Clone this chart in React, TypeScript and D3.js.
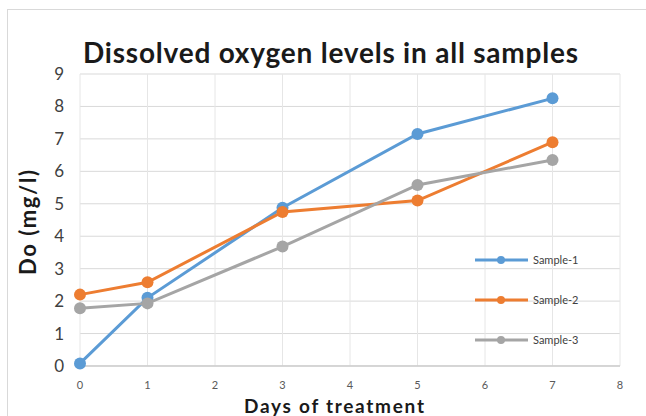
import React from "react";
import * as d3 from "d3";

const days = [0, 1, 3, 5, 7];
const sample1 = [0.08, 2.1, 4.88, 7.15, 8.25];
const sample2 = [2.2, 2.58, 4.75, 5.1, 6.9];
const sample3 = [1.78, 1.93, 3.68, 5.58, 6.35];
const seriesNames = ["Sample-1", "Sample-2", "Sample-3"];
const seriesColors = ["#5B9BD5", "#ED7D31", "#A5A5A5"];
const xTicks = [0, 1, 2, 3, 4, 5, 6, 7, 8];
const yTicks = [0, 1, 2, 3, 4, 5, 6, 7, 8, 9];

export default function App() {
  const W = 646, H = 416;
  const x = d3.scaleLinear().domain([0, 8]).range([80, 620]);
  const y = d3.scaleLinear().domain([0, 9]).range([366, 74]);
  const line = d3.line<number>().x((_, i) => x(days[i])).y((d) => y(d));
  const all = [sample1, sample2, sample3];
  const legendY = [260, 300, 340];
  const font = "Lato, 'Open Sans', sans-serif";
  return (
    <svg width={W} height={H} style={{ position: "absolute", left: 0, top: 0 }} fontFamily={font}>
      <rect x={0} y={0} width={W} height={H} fill="#fff" />
      <rect x={7.5} y={9.5} width={W + 10} height={H + 10} fill="#fff" stroke="#d9d9d9" />
      {yTicks.map((t) => (
        <line key={"h" + t} x1={x(0)} x2={x(8)} y1={y(t)} y2={y(t)} stroke="#d9d9d9" strokeWidth={1} />
      ))}
      {xTicks.map((t) => (
        <line key={"v" + t} x1={x(t)} x2={x(t)} y1={y(0)} y2={y(9)} stroke="#e6e6e6" strokeWidth={1} />
      ))}
      <line x1={x(0)} x2={x(8)} y1={y(0)} y2={y(0)} stroke="#bfbfbf" />
      {yTicks.map((t) => (
        <text key={"yl" + t} x={64} y={y(t) + 6} textAnchor="end" fontSize={17} fill="#404040">{t}</text>
      ))}
      {xTicks.map((t) => (
        <text key={"xl" + t} x={x(t)} y={389} textAnchor="middle" fontSize={11} fill="#595959">{t}</text>
      ))}
      <text x={83} y={63} fontSize={28} fontWeight="bold" fill="#1a1a1a" textLength={495} lengthAdjust="spacing">Dissolved oxygen levels in all samples</text>
      <text x={244} y={413} fontSize={19} fontWeight="bold" fill="#1a1a1a" textLength={180} lengthAdjust="spacing">Days of treatment</text>
      <text transform={`translate(36,275) rotate(-90)`} fontSize={22} fontWeight="bold" fill="#1a1a1a" textLength={105} lengthAdjust="spacing">Do (mg/l)</text>
      {all.map((s, k) => (
        <g key={"s" + k}>
          <path d={line(s) || ""} fill="none" stroke={seriesColors[k]} strokeWidth={3} />
          {s.map((v, i) => (
            <circle key={i} cx={x(days[i])} cy={y(v)} r={6} fill={seriesColors[k]} />
          ))}
        </g>
      ))}
      {seriesNames.map((n, k) => (
        <g key={"lg" + k}>
          <line x1={475} x2={528} y1={legendY[k]} y2={legendY[k]} stroke={seriesColors[k]} strokeWidth={3} />
          <circle cx={501} cy={legendY[k]} r={4} fill={seriesColors[k]} />
          <text x={533} y={legendY[k] + 4} fontSize={11} fill="#404040">{n}</text>
        </g>
      ))}
    </svg>
  );
}
